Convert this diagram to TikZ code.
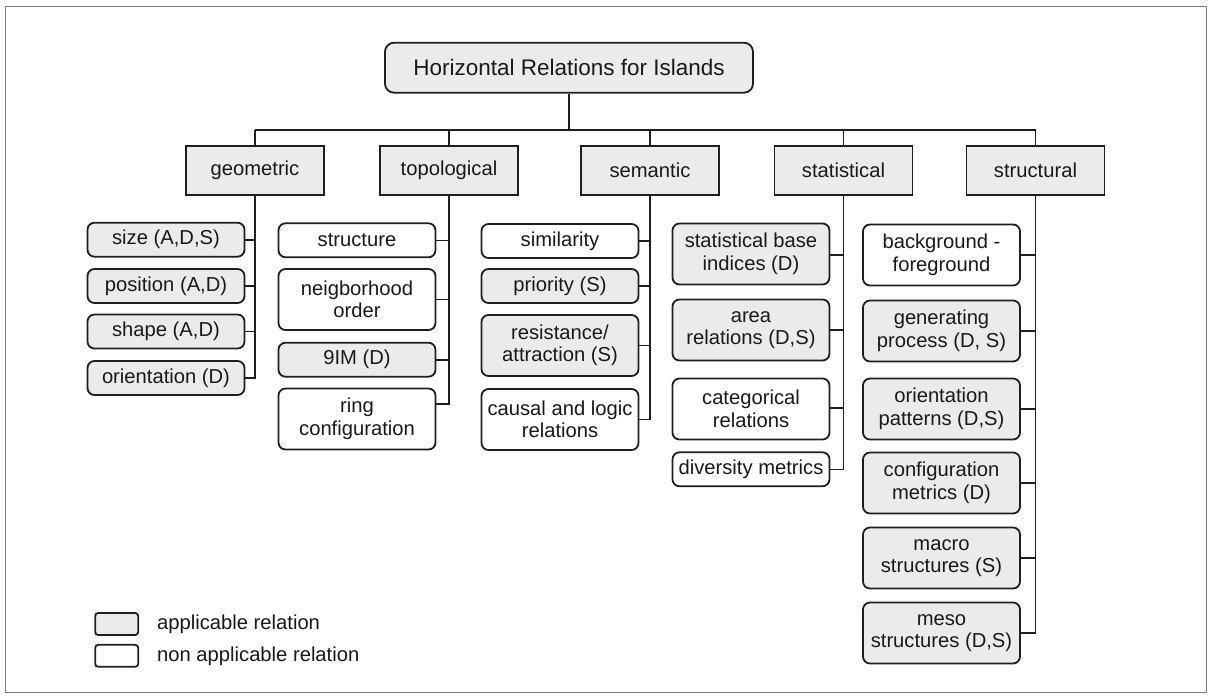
\documentclass[tikz,border=0pt]{standalone}
\usepackage{fontspec}
\setmainfont{Liberation Sans}
\begin{document}
\begin{tikzpicture}[x=1pt,y=-1pt,
  ink/.style={draw=black!88, line width=1.8pt},
  wire/.style={draw=black!88, line width=1.6pt},
  lbl/.style={font=\fontsize{20.2}{22.5}\selectfont, align=center, inner sep=0pt, text=black!90},
  titlebox/.style={ink, fill=black!8, rounded corners=9pt, minimum width=368pt, minimum height=50pt,
    inner sep=0pt, font=\fontsize{22.5}{26}\selectfont, text=black!90},
  catbox/.style={ink, lbl, fill=black!8, minimum width=138pt, minimum height=49pt},
  leaf/.style={ink, lbl, rounded corners=7pt, minimum width=157pt},
  yes/.style={leaf, fill=black!8},
  no/.style={leaf, fill=white},
  one/.style={minimum height=34pt},
  two/.style={minimum height=61pt},
  keybox/.style={draw=black!88, line width=1.8pt, rounded corners=3pt, minimum width=43pt, minimum height=22pt, inner sep=0pt},
  keytext/.style={font=\fontsize{20.2}{22.5}\selectfont, anchor=west, inner sep=0pt, text=black!90}
]
\useasboundingbox (0,0) rectangle (1211,694);
% outer frame
\draw[draw=black!50, line width=1.4pt] (5.5,6.5) rectangle (1206.5,692.5);

% root and first level
\node[titlebox] (root) at (569,67.7) {Horizontal Relations for Islands};
\node[catbox] (geo) at (255,170.5) {geometric};
\node[catbox] (top) at (449,170.5) {topological};
\node[catbox] (sem) at (650,170.5) {semantic};
\node[catbox] (sta) at (843.5,170.5) {statistical};
\node[catbox] (str) at (1035.5,170.5) {structural};

\coordinate (busL) at (255,130);
\coordinate (busR) at (1035.5,130);
\draw[wire] (busL) -- (busR);
\draw[wire] (root.south) -- (root.south |- busL);
\foreach \c in {geo,top,sem,sta,str}
  \draw[wire] (\c.north) -- (\c.north |- busL);

% geometric
\node[yes,one] (g1) at (166,239.7) {size (A,D,S)};
\node[yes,one] (g2) at (166,286) {position (A,D)};
\node[yes,one] (g3) at (166,331.5) {shape (A,D)};
\node[yes,one] (g4) at (166,378) {orientation (D)};

% topological
\node[no,one] (t1) at (357,240.3) {structure};
\node[no,two] (t2) at (357,299.5) {neigborhood\\order};
\node[yes,one] (t3) at (357,359.7) {9IM (D)};
\node[no,two] (t4) at (357,419) {ring\\configuration};

% semantic
\node[no,one] (s1) at (560,241) {similarity};
\node[yes,one] (s2) at (560,286) {priority (S)};
\node[yes,two] (s3) at (560,345.5) {resistance/\\attraction (S)};
\node[no,two] (s4) at (560,419.5) {causal and logic\\relations};

% statistical
\node[yes,two] (a1) at (751,254) {statistical base\\indices (D)};
\node[yes,two] (a2) at (751,330) {area\\relations (D,S)};
\node[no,two] (a3) at (751,409) {categorical\\relations};
\node[no,one] (a4) at (751,469.3) {diversity metrics};

% structural
\node[no,two] (r1) at (941.5,255) {background -\\foreground};
\node[yes,two] (r2) at (941.5,331) {generating\\process (D, S)};
\node[yes,two] (r3) at (941.5,409) {orientation\\patterns (D,S)};
\node[yes,two] (r4) at (941.5,483) {configuration\\metrics (D)};
\node[yes,two] (r5) at (941.5,558) {macro\\structures (S)};
\node[yes,two] (r6) at (941.5,633) {meso\\structures (D,S)};

% branch connectors
\foreach \p/\k in {geo/g1,geo/g2,geo/g3,geo/g4,
                   top/t1,top/t2,top/t3,
                   sem/s1,sem/s2,sem/s3,sem/s4,
                   sta/a2,sta/a4,
                   str/r1,str/r2,str/r3,str/r4,str/r5,str/r6}
  \draw[wire] (\p.south) |- (\k.east);
\draw[wire] (top.south) |- ([yshift=15pt]t4.east);
\draw[wire] (sta.south) |- ([yshift=-1pt]a1.east);
\draw[wire] (sta.south) |- ([yshift=1pt]a3.east);

% legend
\node[keybox, fill=black!8] (k1) at (116.7,624) {};
\node[keybox, fill=white] (k2) at (116.7,655.8) {};
\node[keytext] (k1t) at (157,624) {applicable relation};
\node[keytext] (k2t) at (157,655.8) {non applicable relation};
\end{tikzpicture}
\end{document}
